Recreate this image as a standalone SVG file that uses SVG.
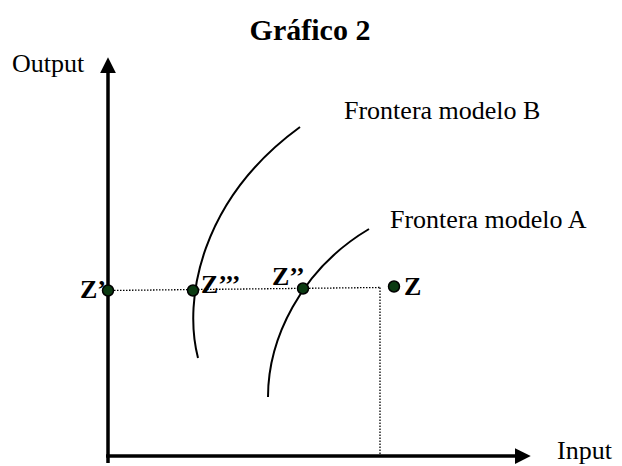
<svg xmlns="http://www.w3.org/2000/svg" width="622" height="466" viewBox="0 0 622 466">
<style>
.lbl{font-family:"Liberation Serif","Times New Roman",serif;font-size:26px;fill:#000}
.ttl{font-family:"Liberation Serif","Times New Roman",serif;font-size:30px;font-weight:bold;fill:#000}
.zl{font-family:"Liberation Serif","Times New Roman",serif;font-size:26px;font-weight:bold;fill:#000}
.axis{stroke:#000;stroke-width:3.5;fill:none}
.dot{stroke:#000;stroke-width:1.3;stroke-dasharray:1.5 1.5;fill:none}
.curve{stroke:#000;stroke-width:2;fill:none}
.pt{fill:#0b3a12;stroke:#000;stroke-width:1.5}
</style>
<defs>
<marker id="ah" viewBox="0 0 10 10" refX="0" refY="5" markerWidth="4.5" markerHeight="5.5" markerUnits="strokeWidth" orient="auto">
<path d="M0,0 L10,5 L0,10 Z" fill="#000"/>
</marker>
</defs>
<text class="ttl" x="310" y="40" text-anchor="middle">Gráfico 2</text>
<g id="connectors">
<line class="axis" x1="108" y1="463" x2="108" y2="73" marker-end="url(#ah)"/>
<line class="axis" x1="106" y1="456" x2="515" y2="456" marker-end="url(#ah)"/>
<line class="dot" x1="108" y1="290.5" x2="380" y2="287.5"/>
<line class="dot" x1="380" y1="287.5" x2="380" y2="455"/>
<path id="fronteraB" class="curve" d="M198,358 C183,300 200,200 300,127"/>
<path id="fronteraA" class="curve" d="M268,397 C268,340 300,270 369,229"/>
</g>
<g id="axis-labels">
<text class="lbl" x="12" y="72">Output</text>
<text class="lbl" x="557" y="459">Input</text>
</g>
<g id="frontier-labels">
<text class="lbl" x="344" y="119">Frontera modelo B</text>
<text class="lbl" x="390" y="228">Frontera modelo A</text>
</g>
<g id="Zp"><circle class="pt" cx="108" cy="290.5" r="5.5"/><text class="zl" x="80" y="298">Z’</text></g>
<g id="Zppp"><circle class="pt" cx="193" cy="290.5" r="5.5"/><text class="zl" x="201" y="293">Z’’’</text></g>
<g id="Zpp"><circle class="pt" cx="303" cy="288.5" r="5.5"/><text class="zl" x="272" y="285">Z’’</text></g>
<g id="Z"><circle class="pt" cx="394" cy="286.5" r="5.5"/><text class="zl" x="404" y="295">Z</text></g>
</svg>
